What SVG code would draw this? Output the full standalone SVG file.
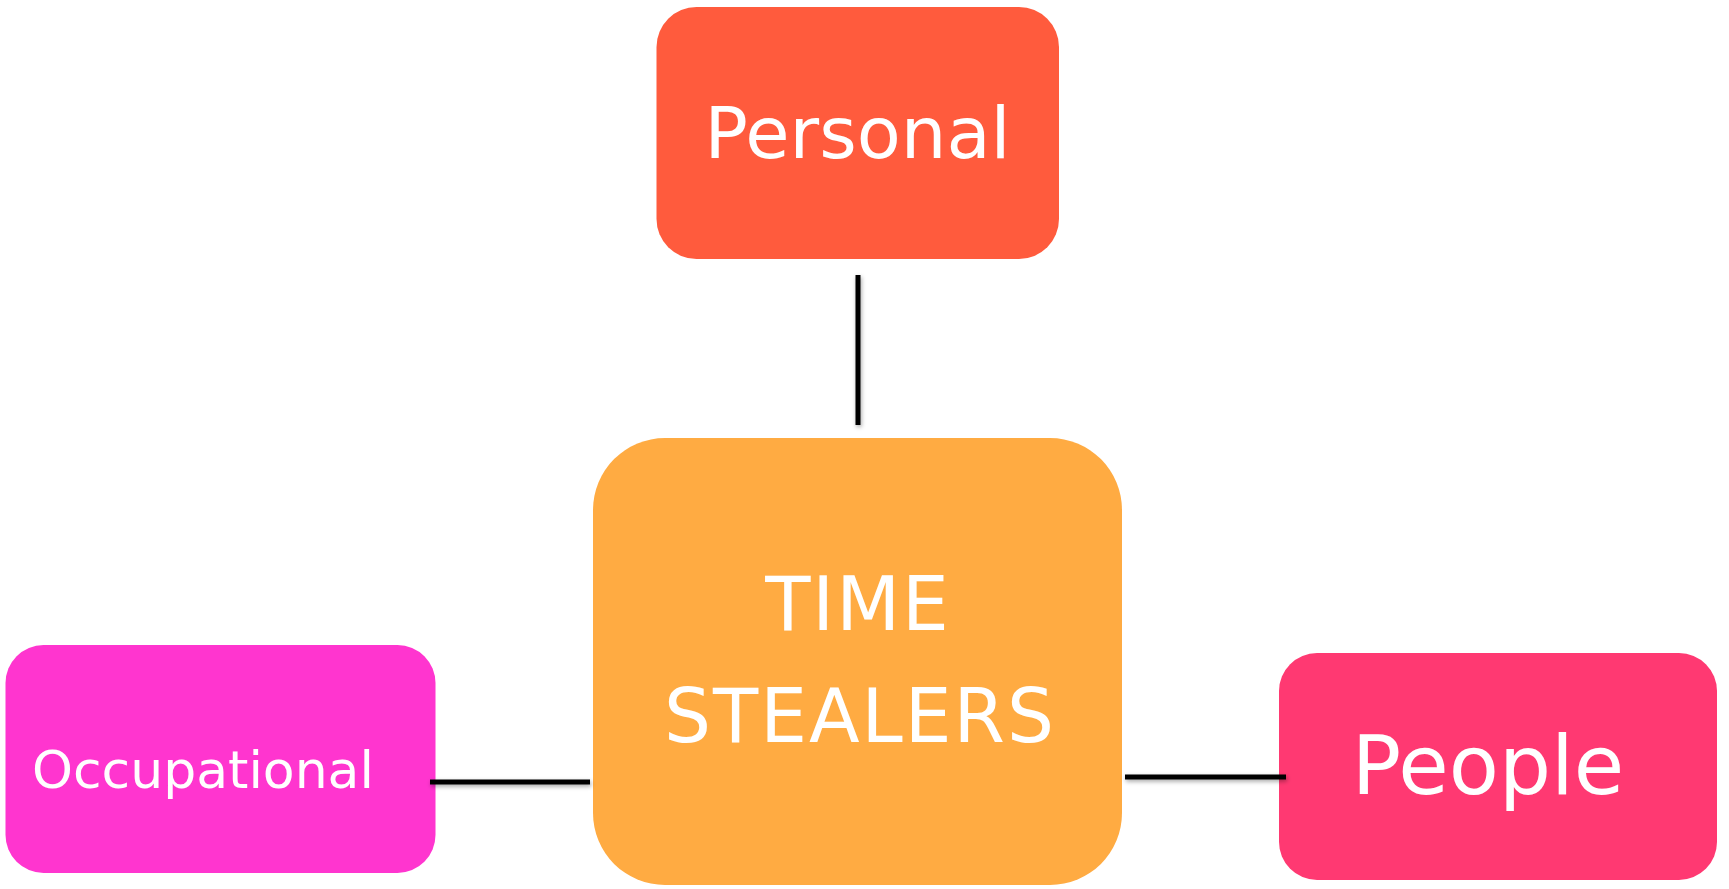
<svg xmlns="http://www.w3.org/2000/svg" width="1729" height="889" viewBox="0 0 1729 889">
<defs>
<style>
.lbl{font-family:"DejaVu Sans","Verdana",sans-serif;fill:#ffffff;text-anchor:middle}
.conn{stroke:#000;stroke-width:5;fill:none;filter:url(#sh)}
</style>
<filter id="sh" filterUnits="userSpaceOnUse" x="0" y="0" width="1729" height="889">
<feDropShadow dx="1" dy="2" stdDeviation="2" flood-color="#000" flood-opacity="0.35"/>
</filter>
</defs>
<rect width="1729" height="889" fill="#ffffff"/>
<g id="personal">
<rect x="656.5" y="7" width="402.5" height="252" rx="40" fill="#FF5B3D"/>
<text class="lbl" x="857.5" y="158" font-size="72">Personal</text>
</g>
<g id="time-stealers">
<rect x="593" y="438" width="529" height="447" rx="72" fill="#FFAB42"/>
<text class="lbl" x="858" y="630" font-size="74" letter-spacing="2">TIME</text>
<text class="lbl" x="860" y="742" font-size="74" letter-spacing="2">STEALERS</text>
</g>
<g id="occupational">
<rect x="5.5" y="645" width="430" height="228" rx="38" fill="#FF35CF"/>
<text class="lbl" x="203" y="788" font-size="52">Occupational</text>
</g>
<g id="people">
<rect x="1279" y="653" width="438" height="227" rx="38" fill="#FF3972"/>
<text class="lbl" x="1488" y="794" font-size="82">People</text>
</g>
<g id="connectors">
<path class="conn" d="M858 275 V425"/>
<path class="conn" d="M430 782 H590"/>
<path class="conn" d="M1125 777 H1286"/>
</g>
</svg>
